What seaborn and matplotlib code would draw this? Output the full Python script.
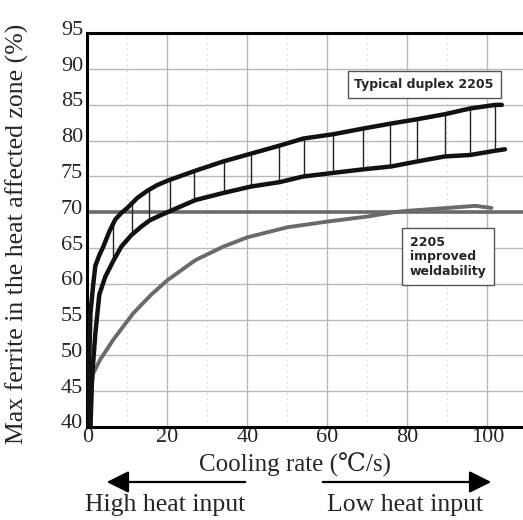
import numpy as np
import pandas as pd
import matplotlib
matplotlib.use("Agg")
import matplotlib.pyplot as plt
import matplotlib.transforms as mtransforms
import seaborn as sns

# ---- data ----
upper_x = [0.3, 0.5, 0.8, 1.5, 2.0, 3.0, 4.0, 5.5, 7.0, 8.5, 10.0, 12.5, 15.0, 17.5, 20.0,
           27.0, 34.0, 41.0, 48.0, 54.0, 61.5, 69.0, 76.0, 82.5, 89.4, 95.7, 102.0, 103.6]
upper_y = [40.0, 50.0, 56.0, 60.0, 62.5, 64.0, 65.2, 67.3, 69.0, 69.9, 70.6, 72.0, 73.0, 73.8,
           74.4, 75.8, 77.1, 78.2, 79.3, 80.3, 80.9, 81.7, 82.4, 83.0, 83.7, 84.5, 85.0, 85.0]

lower_x = [0.8, 1.2, 2.0, 3.0, 4.5, 6.5, 8.5, 11.0, 13.5, 15.7, 18.0, 20.0, 27.0, 34.0, 41.0,
           48.0, 54.0, 61.5, 69.0, 76.0, 82.5, 89.4, 95.7, 102.0, 104.4]
lower_y = [40.0, 47.0, 53.0, 58.5, 61.0, 63.2, 65.2, 66.8, 68.0, 68.9, 69.5, 70.0, 71.7, 72.7,
           73.6, 74.2, 75.0, 75.5, 76.0, 76.4, 77.1, 77.8, 78.0, 78.6, 78.8]

improved_x = [0.3, 0.8, 1.5, 3.2, 6.5, 11.5, 16.0, 20.0, 27.0, 34.0, 40.0, 50.0, 60.0, 70.0,
              76.5, 80.0, 90.0, 97.0, 101.0]
improved_y = [40.0, 45.0, 47.5, 49.4, 52.2, 55.9, 58.5, 60.5, 63.3, 65.2, 66.5, 67.9, 68.7,
              69.4, 70.0, 70.2, 70.6, 70.9, 70.6]

hatch_x = [6.5, 11.1, 15.5, 20.7, 26.7, 34.2, 40.9, 47.8, 54.2, 61.5, 68.8, 75.7, 82.5,
           89.4, 95.7, 101.9]

limit_y = 70
x_ticks = [0, 20, 40, 60, 80, 100]
y_ticks = [40, 45, 50, 55, 60, 65, 70, 75, 80, 85, 90, 95]
minor_x = [10, 30, 50, 70, 90]

# ---- styling ----
sns.set_style("white")
serif = ["Liberation Serif", "DejaVu Serif", "Noto Sans CJK KR"]
plt.rcParams["font.family"] = serif

fig = plt.figure(figsize=(5.23, 5.20), dpi=100)
ax = fig.add_axes([87.3 / 523, 93 / 520, 1 - 87.3 / 523, (427 - 33.3) / 520])

ax.set_xlim(0, 108.9)
ax.set_ylim(40, 95)

# grid
for yv in y_ticks:
    ax.axhline(yv, color="#b8b8b8", lw=1.0, zorder=0)
for xv in x_ticks:
    ax.axvline(xv, color="#b8b8b8", lw=1.0, zorder=0)
for xv in minor_x:
    ax.axvline(xv, color="#c8c8c8", lw=0.8, ls=(0, (1, 4)), zorder=0)

# 70% line
ax.axhline(limit_y, color="#6a6a6a", lw=2.6, zorder=2)

df_up = pd.DataFrame({"x": upper_x, "y": upper_y})
df_lo = pd.DataFrame({"x": lower_x, "y": lower_y})
df_im = pd.DataFrame({"x": improved_x, "y": improved_y})

# hatch lines between the two duplex curves
hy_top = np.interp(hatch_x, upper_x, upper_y)
hy_bot = np.interp(hatch_x, lower_x, lower_y)
ax.vlines(hatch_x, hy_bot, hy_top, color="#222222", lw=1.0, zorder=3)

sns.lineplot(data=df_im, x="x", y="y", ax=ax, color="#6a6a6a", lw=2.8, sort=False, zorder=4)
sns.lineplot(data=df_up, x="x", y="y", ax=ax, color="#111111", lw=3.2, sort=False, zorder=5)
sns.lineplot(data=df_lo, x="x", y="y", ax=ax, color="#111111", lw=3.2, sort=False, zorder=5)

# spines
for s in ["left", "bottom", "top"]:
    ax.spines[s].set_visible(True)
    ax.spines[s].set_color("black")
    ax.spines[s].set_linewidth(2.2)
ax.spines["right"].set_visible(False)

ax.set_xticks(x_ticks)
ax.set_yticks(y_ticks)
ax.set_xticklabels([str(v) for v in x_ticks], fontsize=16)
ax.set_yticklabels([str(v) for v in y_ticks], fontsize=16)
ax.tick_params(axis="both", length=0, pad=3)
ax.tick_params(axis="x", pad=1)
ax.set_xlabel("")
ax.set_ylabel("")

# y tick labels sit slightly above their grid lines in the reference
up = mtransforms.ScaledTranslation(0, 0.055, fig.dpi_scale_trans)
for lab in ax.get_yticklabels():
    lab.set_transform(lab.get_transform() + up)

fig.text(17 / 523, 1 - 234 / 520, "Max ferrite in the heat affected zone (%)",
         rotation=90, ha="center", va="center", fontsize=18.5, family=serif)
fig.text(295 / 523, 1 - 465 / 520, "Cooling rate (℃/s)", ha="center", va="center",
         fontsize=18, family=serif)
fig.text(165 / 523, 1 - 505 / 520, "High heat input", ha="center", va="center",
         fontsize=18.5, family=serif)
fig.text(405 / 523, 1 - 505 / 520, "Low heat input", ha="center", va="center",
         fontsize=18.5, family=serif)

# arrows
fig.patches.append(matplotlib.patches.FancyArrowPatch(
    (248 / 523, 1 - 482 / 520), (104 / 523, 1 - 482 / 520), transform=fig.transFigure,
    arrowstyle="-|>,head_length=9,head_width=4.5", color="black", lw=1.6, mutation_scale=1.5))
fig.patches.append(matplotlib.patches.FancyArrowPatch(
    (320 / 523, 1 - 482 / 520), (494 / 523, 1 - 482 / 520), transform=fig.transFigure,
    arrowstyle="-|>,head_length=9,head_width=4.5", color="black", lw=1.6, mutation_scale=1.5))

# annotation boxes
ax.text(84.2, 87.8, "Typical duplex 2205", ha="center", va="center", fontsize=9,
        fontweight="bold", family="DejaVu Sans", zorder=6,
        bbox=dict(boxstyle="square,pad=0.55", fc="white", ec="#555555", lw=1.0))
ax.text(80.6, 63.8, "2205\nimproved\nweldability", ha="left", va="center", fontsize=9,
        fontweight="bold", family="DejaVu Sans", zorder=6, linespacing=1.15,
        bbox=dict(boxstyle="square,pad=0.6", fc="white", ec="#555555", lw=1.0))

fig.savefig("out.png", dpi=100)
